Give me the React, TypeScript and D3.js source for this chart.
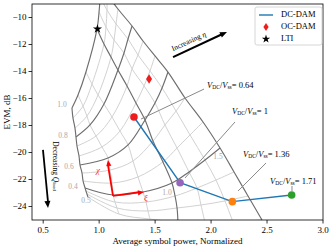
import React from 'react'
import * as d3 from 'd3'

// surface mesh: rows are chi levels, columns are xi levels
const chiLevels = [1.0, 0.933, 0.867, 0.8, 0.733, 0.667, 0.6, 0.533, 0.467, 0.4, 0.333, 0.267, 0.2]
const xiLevels = [0.5, 0.667, 0.833, 1.0, 1.167, 1.333, 1.5]
const darkChi = [1.0, 0.8, 0.6, 0.4]
const darkXi = [0.5, 1.0, 1.5]

const meshPower = [
  [0.757, 0.811, 0.882, 0.981, 0.999, 1.008, 1.008],
  [0.766, 0.856, 0.936, 1.043, 1.061, 1.070, 1.070],
  [0.784, 0.891, 0.990, 1.106, 1.133, 1.151, 1.168],
  [0.793, 0.918, 1.043, 1.168, 1.222, 1.258, 1.294],
  [0.802, 0.972, 1.115, 1.249, 1.294, 1.347, 1.392],
  [0.820, 1.025, 1.186, 1.329, 1.401, 1.454, 1.499],
  [0.829, 1.079, 1.258, 1.410, 1.499, 1.562, 1.615],
  [0.847, 1.097, 1.302, 1.481, 1.588, 1.687, 1.767],
  [0.856, 1.115, 1.347, 1.570, 1.696, 1.812, 1.928],
  [0.874, 1.124, 1.392, 1.651, 1.803, 1.946, 2.080],
  [0.882, 1.142, 1.419, 1.678, 1.874, 2.044, 2.205],
  [0.891, 1.159, 1.436, 1.696, 1.910, 2.124, 2.330],
  [0.900, 1.177, 1.454, 1.704, 1.946, 2.196, 2.455],
]
const meshEvm = [
  [-16.70, -15.74, -14.04, -10.85, -9.59, -8.48, -7.37],
  [-17.44, -16.56, -14.93, -11.96, -10.70, -9.44, -8.26],
  [-18.19, -17.30, -15.74, -12.93, -11.67, -10.48, -9.37],
  [-18.85, -17.96, -16.41, -13.89, -12.63, -11.59, -10.63],
  [-19.52, -18.78, -17.37, -15.07, -13.81, -12.78, -11.74],
  [-20.26, -19.59, -18.41, -16.33, -15.07, -13.96, -12.85],
  [-20.93, -20.41, -19.44, -17.59, -16.33, -15.22, -14.04],
  [-21.52, -21.30, -20.63, -19.15, -17.96, -16.93, -15.96],
  [-22.11, -22.26, -21.81, -20.70, -19.67, -18.70, -17.74],
  [-22.63, -23.15, -22.93, -22.26, -21.44, -20.56, -19.67],
  [-22.85, -23.67, -23.67, -23.22, -22.63, -22.04, -21.44],
  [-23.07, -24.11, -24.33, -24.11, -23.89, -23.59, -23.22],
  [-23.30, -24.56, -24.93, -25.15, -25.22, -25.15, -25.00],
]

// DC-DAM sweep
const dcPower = [1.311, 1.723, 2.19, 2.72]
const dcEvm = [-17.37, -22.24, -23.64, -23.15]
const dcRatio = ['0.64', '1', '1.36', '1.71']
const dcColors = ['#ee1c1c', '#9467bd', '#ff7f0e', '#2ca02c']
// label anchors and leader lines (power, EVM)
const labelPos = [[1.964, -15.07], [2.187, -17.0], [2.285, -20.19], [2.527, -22.19]]
const leaderFrom = [[1.374, -17.52], [1.767, -21.89], [2.241, -22.85], [2.723, -22.85]]
const leaderTo = [[1.937, -15.30], [2.214, -17.74], [2.491, -20.78], [2.723, -22.48]]

const ocPower = [1.446]
const ocEvm = [-14.56]
const ltiPower = [0.985]
const ltiEvm = [-10.85]

// mesh level labels
const chiLabelText = ['1.0', '0.8', '0.6', '0.4']
const chiLabelPos = [[0.668, -16.48], [0.677, -18.78], [0.731, -21.07], [0.766, -22.56]]
const xiLabelText = ['0.5', '1.0', '1.5']
const xiLabelPos = [[0.882, -23.59], [1.606, -23.0], [2.062, -20.33]]

const xTicks = [0.5, 1.0, 1.5, 2.0, 2.5, 3.0]
const yTicks = [-24, -22, -20, -18, -16, -14, -12, -10]

const FONT = 'Liberation Serif, DejaVu Serif, serif'

function head(x1: number, y1: number, x2: number, y2: number, len: number, wid: number) {
  const a = Math.atan2(y2 - y1, x2 - x1)
  const bx = x2 - len * Math.cos(a), by = y2 - len * Math.sin(a)
  const nx = -Math.sin(a) * wid, ny = Math.cos(a) * wid
  return `${x2},${y2} ${bx + nx},${by + ny} ${bx - nx},${by - ny}`
}

function Ratio({ x, y, v }: { x: number; y: number; v: string }) {
  return (
    <text x={x} y={y} fontSize={8.5} fontFamily={FONT} dominantBaseline="middle">
      <tspan fontStyle="italic">V</tspan>
      <tspan fontSize={5.5} dy={1.8}>DC</tspan>
      <tspan dy={-1.8}>/</tspan>
      <tspan fontStyle="italic">V</tspan>
      <tspan fontSize={5.5} dy={1.8}>ss</tspan>
      <tspan dy={-1.8}>= {v}</tspan>
    </text>
  )
}

export default function App() {
  const x = d3.scaleLinear().domain([0.4, 3.0]).range([32, 323])
  const y = d3.scaleLinear().domain([-25, -9]).range([220, 4])
  const line = d3.line<number[]>().x(d => x(d[0])).y(d => y(d[1])).curve(d3.curveCatmullRom.alpha(0.5))

  const rows = chiLevels.map((c, i) => ({ c, pts: xiLevels.map((_, j) => [meshPower[i][j], meshEvm[i][j]]) }))
  const cols = xiLevels.map((xi, j) => ({ xi, pts: chiLevels.map((_, i) => [meshPower[i][j], meshEvm[i][j]]) }))
  const isDarkRow = (c: number) => darkChi.some(d => Math.abs(d - c) < 1e-6)
  const isDarkCol = (c: number) => darkXi.some(d => Math.abs(d - c) < 1e-6)

  const dcPts = dcPower.map((p, i) => [p, dcEvm[i]])
  const straight = d3.line<number[]>().x(d => x(d[0])).y(d => y(d[1]))
  const starPath = d3.symbol(d3.symbolStar, 26)()
  const thinDiamond = (cx: number, cy: number, w: number, h: number) =>
    `M${cx},${cy - h} L${cx + w},${cy} L${cx},${cy + h} L${cx - w},${cy} Z`

  // arrows in data units
  const etaA = [x(1.66), y(-12.93), x(2.142), y(-11.07)]
  const qA = [x(0.498), y(-19.81), x(0.543), y(-24.11)]
  const chiA = [x(1.124), y(-23.22), x(1.079), y(-20.56)]
  const xiA = [x(1.124), y(-23.22), x(1.400), y(-22.93)]

  return (
    <svg width={329} height={247} style={{ position: 'absolute', left: 0, top: 0, background: '#fff' }} fontFamily={FONT}>
      <defs>
        <clipPath id="plotclip">
          <rect x={32} y={4} width={291} height={216} />
        </clipPath>
      </defs>
      <g clipPath="url(#plotclip)" fill="none">
        {rows.filter(r => !isDarkRow(r.c)).map((r, i) => (
          <path key={'lr' + i} d={line(r.pts) || ''} stroke="#d2d2d2" strokeWidth={1} />
        ))}
        {cols.filter(c => !isDarkCol(c.xi)).map((c, i) => (
          <path key={'lc' + i} d={line(c.pts) || ''} stroke="#d2d2d2" strokeWidth={1} />
        ))}
        {rows.filter(r => isDarkRow(r.c)).map((r, i) => (
          <path key={'dr' + i} d={line(r.pts) || ''} stroke="#6e6e6e" strokeWidth={1.15} />
        ))}
        {cols.filter(c => isDarkCol(c.xi)).map((c, i) => (
          <path key={'dc' + i} d={line(c.pts) || ''} stroke="#6e6e6e" strokeWidth={1.15} />
        ))}
      </g>

      {chiLabelText.map((t, i) => (
        <text key={'cl' + i} x={x(chiLabelPos[i][0])} y={y(chiLabelPos[i][1])} fontSize={7.5} fill="#a8a8a8"
          textAnchor="middle" dominantBaseline="middle">{t}</text>
      ))}
      {xiLabelText.map((t, i) => (
        <text key={'xl' + i} x={x(xiLabelPos[i][0])} y={y(xiLabelPos[i][1])} fontSize={7.5} fill="#a8a8a8"
          textAnchor="middle" dominantBaseline="middle">{t}</text>
      ))}

      {/* leader lines */}
      {leaderFrom.map((f, i) => (
        <line key={'ld' + i} x1={x(f[0])} y1={y(f[1])} x2={x(leaderTo[i][0])} y2={y(leaderTo[i][1])}
          stroke="#8a8a8a" strokeWidth={1} />
      ))}

      {/* DC-DAM */}
      <path d={straight(dcPts) || ''} fill="none" stroke="#1f77b4" strokeWidth={1.4} />
      {dcPts.map((p, i) => (
        <circle key={'dp' + i} cx={x(p[0])} cy={y(p[1])} r={3.8} fill={dcColors[i]} />
      ))}
      {ocPower.map((p, i) => (
        <path key={'oc' + i} d={thinDiamond(x(p), y(ocEvm[i]), 3, 4.8)} fill="#ee1c1c" />
      ))}
      {ltiPower.map((p, i) => (
        <path key={'lt' + i} d={starPath || ''} transform={`translate(${x(p)},${y(ltiEvm[i])})`} fill="#000" />
      ))}
      {labelPos.map((p, i) => (
        <Ratio key={'rl' + i} x={x(p[0])} y={y(p[1])} v={dcRatio[i]} />
      ))}

      {/* red chi / xi arrows */}
      <line x1={chiA[0]} y1={chiA[1]} x2={chiA[2]} y2={chiA[3] + 5} stroke="#f00" strokeWidth={1.8} />
      <polygon points={head(chiA[0], chiA[1], chiA[2], chiA[3], 6, 2.6)} fill="#f00" />
      <line x1={xiA[0]} y1={xiA[1]} x2={xiA[2] - 5} y2={xiA[3]} stroke="#f00" strokeWidth={1.8} />
      <polygon points={head(xiA[0], xiA[1], xiA[2], xiA[3], 6, 2.6)} fill="#f00" />
      <text x={x(0.99)} y={y(-21.37)} fontSize={9} fill="#f33" fontStyle="italic" textAnchor="middle" dominantBaseline="middle">χ</text>
      <text x={x(1.419)} y={y(-23.44)} fontSize={9} fill="#f33" fontStyle="italic" textAnchor="middle" dominantBaseline="middle">ξ</text>

      {/* increasing eta */}
      <line x1={etaA[0]} y1={etaA[1]} x2={etaA[2] - 5} y2={etaA[3] + 2.3} stroke="#000" strokeWidth={2} />
      <polygon points={head(etaA[0], etaA[1], etaA[2], etaA[3], 7, 3)} fill="#000" />
      <text transform={`translate(${x(1.803)},${y(-11.81)}) rotate(-25)`} fontSize={7.5} textAnchor="middle"
        dominantBaseline="middle">Increasing <tspan fontStyle="italic">η</tspan></text>

      {/* decreasing Q */}
      <line x1={qA[0]} y1={qA[1]} x2={qA[2]} y2={qA[3] - 6} stroke="#000" strokeWidth={1.8} />
      <polygon points={head(qA[0], qA[1], qA[2], qA[3], 7, 3)} fill="#000" />
      <text transform={`translate(${x(0.606)},${y(-21.0)}) rotate(90)`} fontSize={7.5} textAnchor="middle"
        dominantBaseline="middle">Decreasing <tspan fontStyle="italic">Q</tspan><tspan fontSize={5} dy={1.5}>load</tspan></text>

      {/* axes */}
      <rect x={32} y={4} width={291} height={216} fill="none" stroke="#000" strokeWidth={0.8} />
      {xTicks.map(t => (
        <g key={'xt' + t}>
          <line x1={x(t)} x2={x(t)} y1={220} y2={223.5} stroke="#000" strokeWidth={0.8} />
          <text x={x(t)} y={233} fontSize={9} textAnchor="middle">{t.toFixed(1)}</text>
        </g>
      ))}
      {yTicks.map(t => (
        <g key={'yt' + t}>
          <line x1={28.5} x2={32} y1={y(t)} y2={y(t)} stroke="#000" strokeWidth={0.8} />
          <text x={26.5} y={y(t)} fontSize={9} textAnchor="end" dominantBaseline="middle">{'\u2212' + Math.abs(t)}</text>
        </g>
      ))}
      <text x={177.5} y={244} fontSize={9} textAnchor="middle">Average symbol power, Normalized</text>
      <text transform="translate(8,112) rotate(-90)" fontSize={9} textAnchor="middle" dominantBaseline="middle">EVM, dB</text>

      {/* legend */}
      <rect x={255} y={7} width={67} height={38} rx={2} fill="#fff" fillOpacity={0.85} stroke="#cccccc" strokeWidth={0.8} />
      <line x1={259} x2={273} y1={15} y2={15} stroke="#1f77b4" strokeWidth={1.4} />
      <path d={thinDiamond(266, 27, 2.6, 4)} fill="#ee1c1c" />
      <path d={d3.symbol(d3.symbolStar, 22)() || ''} transform="translate(266,39)" fill="#000" />
      <text x={281} y={15} fontSize={8.5} dominantBaseline="middle">DC-DAM</text>
      <text x={281} y={27} fontSize={8.5} dominantBaseline="middle">OC-DAM</text>
      <text x={281} y={39} fontSize={8.5} dominantBaseline="middle">LTI</text>
    </svg>
  )
}
